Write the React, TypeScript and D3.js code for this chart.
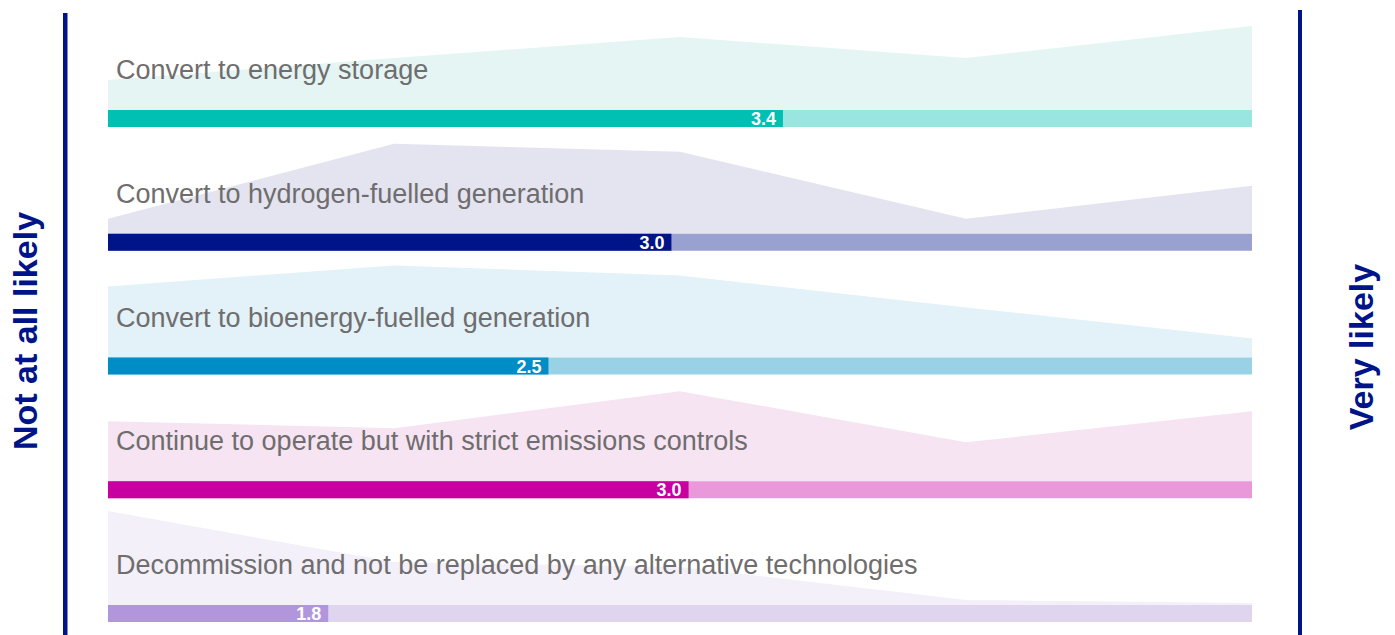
import * as React from "react";
import * as d3 from "d3";

// answer options, in the order they are drawn top to bottom
const options = [
	"Convert to energy storage",
	"Convert to hydrogen-fuelled generation",
	"Convert to bioenergy-fuelled generation",
	"Continue to operate but with strict emissions controls",
	"Decommission and not be replaced by any alternative technologies",
];

// likelihood scale 1 (not at all likely) .. 5 (very likely)
const scalePoints = [1, 2, 3, 4, 5];

// share of responses (%) at each scale point
const energyStorage = [10, 17.3, 24.3, 17.3, 28];
const hydrogen = [5, 30, 27.3, 5, 16];
const bioenergy = [23.7, 30.7, 27.3, 16.7, 6.3];
const emissionsControls = [20, 17.7, 30, 13, 23.3];
const decommission = [31.3, 14.3, 12.7, 1.7, 0.7];

// average score per option
const means = [3.36, 2.97, 2.54, 3.03, 1.77];

const darkColors = ["#00bfb3", "#001489", "#008dc5", "#c800a1", "#b196dc"];
const lightColors = ["#99e5e0", "#99a1d0", "#99d1e7", "#e998d9", "#dfd5ef"];
const areaColors = ["#e4f5f4", "#e4e4f1", "#e3f1f8", "#f6e4f3", "#f3f0f9"];

const navy = "#001489";
const textGrey = "#6f6d6d";
const fontFamily = "'Liberation Sans', Arial, sans-serif";

function OptionRow({
	index,
	label,
	shares,
	mean,
	xScale,
	yScale,
	barTop,
}: {
	index: number;
	label: string;
	shares: number[];
	mean: number;
	xScale: d3.ScaleLinear<number, number>;
	yScale: d3.ScaleLinear<number, number>;
	barTop: number;
}) {
	const barHeight = 17;
	const area = d3
		.area<number>()
		.x((_, i) => xScale(scalePoints[i]))
		.y0(barTop)
		.y1((d) => barTop - yScale(d));

	const x0 = xScale(scalePoints[0]);
	const x1 = xScale(scalePoints[scalePoints.length - 1]);
	const xm = xScale(mean);

	return (
		<g>
			<path d={area(shares) || ""} fill={areaColors[index]} />
			<text
				x={116}
				y={barTop - 31}
				fill={textGrey}
				fontSize={27}
				fontFamily={fontFamily}
			>
				{label}
			</text>
			<rect
				x={x0}
				y={barTop}
				width={x1 - x0}
				height={barHeight}
				fill={lightColors[index]}
			/>
			<rect
				x={x0}
				y={barTop}
				width={xm - x0}
				height={barHeight}
				fill={darkColors[index]}
			/>
			<text
				x={xm - 7}
				y={barTop + barHeight - 2}
				textAnchor="end"
				fill="white"
				fontWeight="bold"
				fontSize={18}
				fontFamily={fontFamily}
			>
				{mean.toFixed(1)}
			</text>
		</g>
	);
}

export default function App() {
	const width = 1395;
	const height = 635;

	const rows = [energyStorage, hydrogen, bioenergy, emissionsControls, decommission];

	const xScale = d3.scaleLinear([1, 5], [108, 1252]);
	const yScale = d3.scaleLinear([0, 100], [0, 300]);
	const rowScale = d3
		.scalePoint<number>()
		.domain(d3.range(options.length))
		.range([110, 605]);

	return (
		<svg
			width={width}
			height={height}
			viewBox={`0 0 ${width} ${height}`}
			style={{ position: "absolute", left: 0, top: 0, background: "white" }}
		>
			{rows.map((shares, i) => (
				<OptionRow
					key={options[i]}
					index={i}
					label={options[i]}
					shares={shares}
					mean={means[i]}
					xScale={xScale}
					yScale={yScale}
					barTop={rowScale(i)!}
				/>
			))}
			<rect x={63} y={13} width={4.5} height={height - 13} fill={navy} />
			<rect x={1298} y={10} width={4} height={height - 10} fill={navy} />
			<text
				transform="translate(37 331) rotate(-90)"
				textAnchor="middle"
				fill={navy}
				fontWeight="bold"
				fontSize={34}
				fontFamily={fontFamily}
			>
				Not at all likely
			</text>
			<text
				transform="translate(1373 347) rotate(-90)"
				textAnchor="middle"
				fill={navy}
				fontWeight="bold"
				fontSize={34}
				fontFamily={fontFamily}
			>
				Very likely
			</text>
		</svg>
	);
}
